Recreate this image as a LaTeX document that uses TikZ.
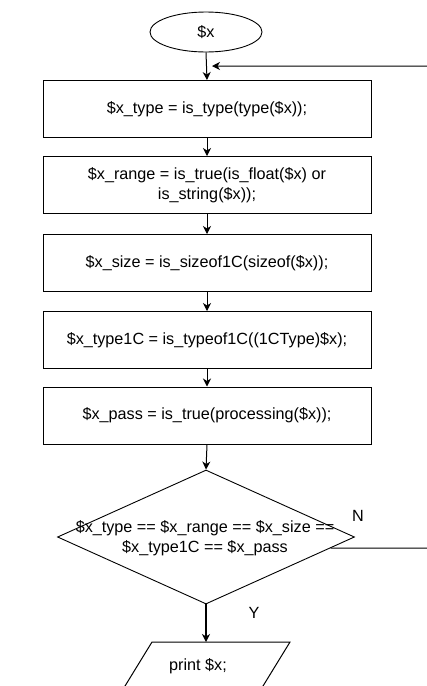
\documentclass[tikz,border=0pt]{standalone}
\usepackage{fontspec}
\setmainfont{Liberation Sans}
\usetikzlibrary{shapes.geometric,arrows.meta,calc}

\tikzset{
  txt/.style={font=\fontsize{16.2}{20}\selectfont, text=black},
  proc/.style={draw=black, line width=1pt, rectangle, minimum width=328pt,
    minimum height=57pt, inner sep=2pt, align=center, txt},
  startnode/.style={draw=black, line width=0.9pt, ellipse, minimum width=112pt,
    minimum height=40pt, inner sep=0pt, txt},
  decision/.style={draw=black, line width=0.9pt, diamond, minimum width=297pt,
    minimum height=134pt, inner sep=0pt},
  flow/.style={draw=black, line width=1pt,
    -{Stealth[length=8pt,width=8pt,inset=2.5pt]}},
  plain/.style={draw=black, line width=1pt},
}

\begin{document}
\begin{tikzpicture}[x=1pt,y=-1pt]
  \useasboundingbox (0,0) rectangle (427,686);
  \clip (0,0) rectangle (427,686);

  % start
  \node[startnode] (start) at (206,32) {\$x};

  % processing steps
  \node[proc] (t1) at (207,109)   {\$x\_type = is\_type(type(\$x));};
  \node[proc] (t2) at (207,185)   {\$x\_range = is\_true(is\_float(\$x) or\\is\_string(\$x));};
  \node[proc] (t3) at (207,263)   {\$x\_size = is\_sizeof1C(sizeof(\$x));};
  \node[proc] (t4) at (207,340)   {\$x\_type1C = is\_typeof1C((1CType)\$x);};
  \node[proc] (t5) at (207,415.5) {\$x\_pass = is\_true(processing(\$x));};

  % decision
  \node[decision] (dec) at (206,537) {};
  \node[txt, align=center] (dectext) at (205,538)
    {\$x\_type == \$x\_range == \$x\_size ==\\\$x\_type1C == \$x\_pass};

  % output (parallelogram)
  \coordinate (p1) at (152,642);
  \coordinate (p2) at (290,642);
  \coordinate (p3) at (244,717);
  \coordinate (p4) at (106,717);
  \draw[plain] (p1) -- (p2) -- (p3) -- (p4) -- cycle;
  \node[txt] (out) at (198,666) {print \$x;};

  % labels
  \node[txt] (lblN) at (358,516) {N};
  \node[txt] (lblY) at (254,613) {Y};

  % main flow
  \draw[flow] (start.south) -- (t1.north);
  \draw[flow] (t1.south) -- (t2.north);
  \draw[flow] (t2.south) -- (t3.north);
  \draw[flow] (t3.south) -- (t4.north);
  \draw[flow] (t4.south) -- (t5.north);
  \draw[flow] (t5.south) -- (dec.north);
  \draw[flow, line width=1.8pt] (dec.south) -- (p1 -| dec.south);

  % loop back on N
  \coordinate (nexit) at ($(dec.east)!0.164!(dec.south)$);
  \coordinate (loopend) at (212,66);
  \draw[flow] (nexit) -- (440,548) -- (440,66) -- (loopend);
\end{tikzpicture}
\end{document}
